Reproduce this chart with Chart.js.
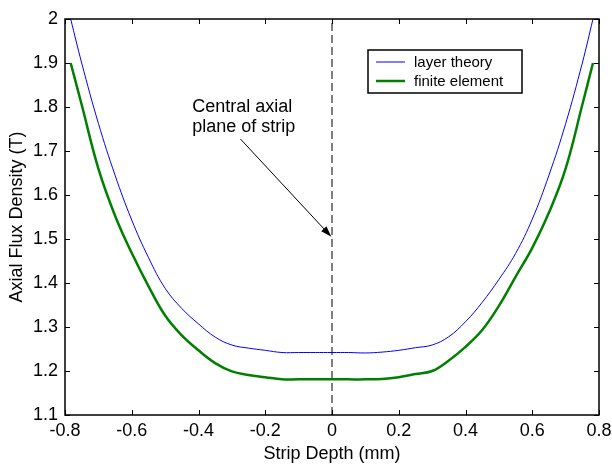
<!DOCTYPE html>
<html>
<head>
<meta charset="utf-8">
<script src="https://cdn.jsdelivr.net/npm/chart.js@4.4.1/dist/chart.umd.min.js"></script>
<style>
  html, body { margin: 0; padding: 0; background: #fff; }
  #wrap { width: 612px; height: 465px; }
</style>
</head>
<body>
<div id="wrap"><canvas id="chart" width="612" height="465"></canvas></div>
<script>
// strip depth (mm) and axial flux density (T)
const depth = [-0.783, -0.75, -0.7, -0.65, -0.6, -0.55, -0.5, -0.45, -0.4, -0.35, -0.3, -0.25, -0.2, -0.15, -0.1, -0.05, 0,
  0.05, 0.1, 0.15, 0.2, 0.25, 0.3, 0.35, 0.4, 0.45, 0.5, 0.55, 0.6, 0.65, 0.7, 0.75, 0.782];
const layerTheory = [2.0, 1.90, 1.763, 1.645, 1.543, 1.458, 1.388, 1.342, 1.307, 1.277, 1.259, 1.252, 1.247, 1.242, 1.242, 1.242, 1.242,
  1.242, 1.241, 1.243, 1.247, 1.253, 1.259, 1.278, 1.312, 1.356, 1.408, 1.467, 1.545, 1.645, 1.762, 1.90, 2.0];
const finiteElement = [1.9, 1.805, 1.660, 1.553, 1.468, 1.393, 1.326, 1.281, 1.247, 1.218, 1.199, 1.191, 1.186, 1.181, 1.181, 1.181, 1.181,
  1.181, 1.181, 1.182, 1.186, 1.193, 1.200, 1.224, 1.255, 1.293, 1.348, 1.414, 1.480, 1.560, 1.660, 1.805, 1.9];

// central axial plane marker
const centreX = [0, 0];
const centreY = [1.1, 2.0];

const xTicks = [-0.8, -0.6, -0.4, -0.2, 0, 0.2, 0.4, 0.6, 0.8];
const yTicks = [1.1, 1.2, 1.3, 1.4, 1.5, 1.6, 1.7, 1.8, 1.9, 2];

const FONT = '"Liberation Sans", Arial, Helvetica, sans-serif';

const annotation = {
  lines: ['Central axial', 'plane of strip'],
  textX: -0.419, textY: [1.80, 1.755],
  from: { x: -0.274, y: 1.727 },
  to: { x: -0.002, y: 1.505 }
};

function toPoints(xs, ys) {
  return xs.map((x, i) => ({ x: x, y: ys[i] }));
}

// inward ticks + box, like the original MATLAB axes
const boxTicks = {
  id: 'boxTicks',
  afterDatasetsDraw(chart) {
    const { ctx, chartArea: a, scales } = chart;
    ctx.save();
    ctx.strokeStyle = '#000';
    ctx.lineWidth = 1;
    ctx.beginPath();
    xTicks.forEach(v => {
      const px = Math.round(scales.x.getPixelForValue(v)) + 0.5;
      ctx.moveTo(px, a.bottom); ctx.lineTo(px, a.bottom - 5);
      ctx.moveTo(px, a.top); ctx.lineTo(px, a.top + 5);
    });
    yTicks.forEach(v => {
      const py = Math.round(scales.y.getPixelForValue(v)) + 0.5;
      ctx.moveTo(a.left, py); ctx.lineTo(a.left + 5, py);
      ctx.moveTo(a.right, py); ctx.lineTo(a.right - 5, py);
    });
    ctx.stroke();
    ctx.lineWidth = 1.5;
    ctx.strokeRect(a.left, a.top, a.right - a.left, a.bottom - a.top);
    ctx.restore();
  }
};

const notes = {
  id: 'notes',
  afterDraw(chart) {
    const { ctx, scales } = chart;
    const sx = scales.x, sy = scales.y;
    ctx.save();
    // annotation text
    ctx.fillStyle = '#000';
    ctx.font = '18px ' + FONT;
    ctx.textAlign = 'left';
    ctx.textBaseline = 'middle';
    annotation.lines.forEach((t, i) => {
      ctx.fillText(t, sx.getPixelForValue(annotation.textX), sy.getPixelForValue(annotation.textY[i]));
    });
    // arrow
    const x1 = sx.getPixelForValue(annotation.from.x), y1 = sy.getPixelForValue(annotation.from.y);
    const x2 = sx.getPixelForValue(annotation.to.x), y2 = sy.getPixelForValue(annotation.to.y);
    const ang = Math.atan2(y2 - y1, x2 - x1);
    ctx.strokeStyle = '#000';
    ctx.lineWidth = 1;
    ctx.beginPath();
    ctx.moveTo(x1, y1);
    ctx.lineTo(x2 - 9 * Math.cos(ang), y2 - 9 * Math.sin(ang));
    ctx.stroke();
    ctx.beginPath();
    ctx.moveTo(x2, y2);
    ctx.lineTo(x2 - 11 * Math.cos(ang) + 3.5 * Math.sin(ang), y2 - 11 * Math.sin(ang) - 3.5 * Math.cos(ang));
    ctx.lineTo(x2 - 11 * Math.cos(ang) - 3.5 * Math.sin(ang), y2 - 11 * Math.sin(ang) + 3.5 * Math.cos(ang));
    ctx.closePath();
    ctx.fill();

    // legend box
    const lx = 368, ly = 50, lw = 154, lh = 43;
    ctx.fillStyle = '#fff';
    ctx.fillRect(lx, ly, lw, lh);
    ctx.lineWidth = 1.5;
    ctx.strokeRect(lx, ly, lw, lh);
    ctx.font = '15px ' + FONT;
    ctx.textBaseline = 'middle';
    chart.data.datasets.filter(d => d.label).forEach((d, i) => {
      const yy = ly + 12 + i * 19;
      ctx.strokeStyle = d.borderColor;
      ctx.lineWidth = d.borderWidth;
      ctx.beginPath();
      ctx.moveTo(lx + 8, yy); ctx.lineTo(lx + 37, yy);
      ctx.stroke();
      ctx.fillStyle = '#000';
      ctx.fillText(d.label, lx + 46, yy + 1);
    });
    ctx.restore();
  }
};

new Chart(document.getElementById('chart'), {
  type: 'line',
  data: {
    datasets: [
      {
        label: 'layer theory',
        data: toPoints(depth, layerTheory),
        borderColor: '#0000ff',
        borderWidth: 1,
        pointRadius: 0,
        tension: 0.4
      },
      {
        label: 'finite element',
        data: toPoints(depth, finiteElement),
        borderColor: '#008000',
        borderWidth: 2.5,
        pointRadius: 0,
        tension: 0.4
      },
      {
        label: '',
        data: toPoints(centreX, centreY),
        borderColor: '#808080',
        borderWidth: 2,
        borderDash: [8, 4],
        pointRadius: 0
      }
    ]
  },
  options: {
    responsive: false,
    animation: false,
    layout: { padding: { top: 19, right: 13, left: 0, bottom: 0 } },
    plugins: { legend: { display: false }, tooltip: { enabled: false } },
    scales: {
      x: {
        type: 'linear',
        min: -0.8, max: 0.8,
        grid: { display: false, drawTicks: false },
        border: { display: false },
        afterBuildTicks: s => { s.ticks = xTicks.map(v => ({ value: v })); },
        afterFit: s => { s.height = 50; s.paddingLeft = 0; s.paddingRight = 0; },
        ticks: {
          color: '#000', padding: 5, maxRotation: 0, autoSkip: false,
          font: { family: FONT, size: 18 },
          callback: v => String(v)
        },
        title: {
          display: true, text: 'Strip Depth (mm)', color: '#000',
          font: { family: FONT, size: 18 }, padding: { top: 1, bottom: 0 }
        }
      },
      y: {
        min: 1.1, max: 2.0,
        grid: { display: false, drawTicks: false },
        border: { display: false },
        afterBuildTicks: s => { s.ticks = yTicks.map(v => ({ value: v })); },
        afterFit: s => { s.width = 65; s.paddingTop = 0; s.paddingBottom = 0; },
        ticks: {
          color: '#000', padding: 7, autoSkip: false,
          font: { family: FONT, size: 18 },
          callback: v => String(v)
        },
        title: {
          display: true, text: 'Axial Flux Density (T)', color: '#000',
          font: { family: FONT, size: 18 }, padding: { top: 6, bottom: 0 }
        }
      }
    }
  },
  plugins: [boxTicks, notes]
});
</script>
</body>
</html>
